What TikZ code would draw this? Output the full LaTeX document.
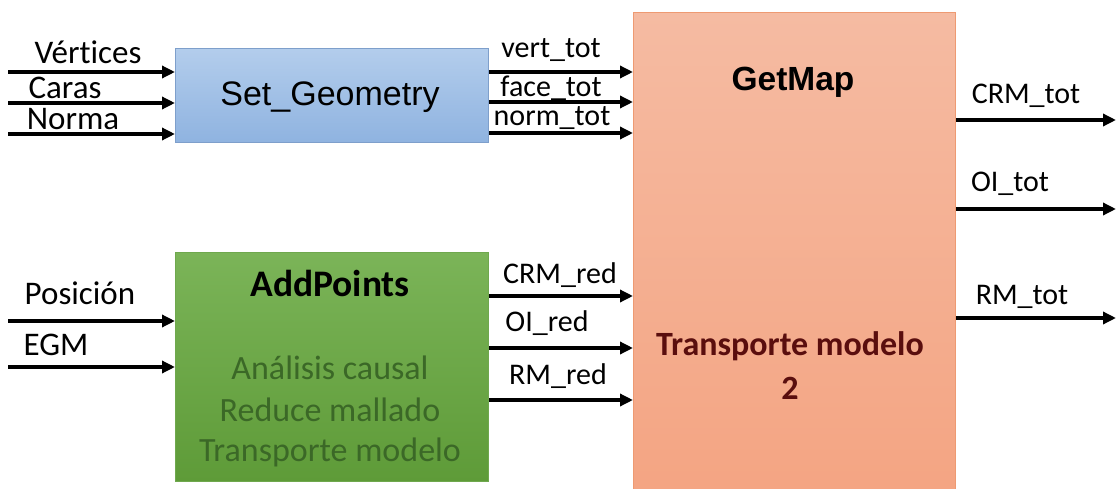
\documentclass[tikz,border=0pt]{standalone}
\usepackage{fontspec}
\setmainfont{Carlito}[Ligatures=NoCommon]
\newfontfamily\arialfont{Liberation Sans}
\usetikzlibrary{arrows.meta}
\definecolor{sgtop}{HTML}{B3CDEC}
\definecolor{sgbot}{HTML}{8FB3E0}
\definecolor{sgline}{HTML}{7E9FCB}
\definecolor{aptop}{HTML}{7BB458}
\definecolor{apbot}{HTML}{5E9B38}
\definecolor{apline}{HTML}{6FA84E}
\definecolor{aptext}{HTML}{3B6827}
\definecolor{gmtop}{HTML}{F5BBA2}
\definecolor{gmbot}{HTML}{F4A482}
\definecolor{gmline}{HTML}{EE9A72}
\definecolor{gmtext}{HTML}{5A0E0E}
\begin{document}
\begin{tikzpicture}[x=1pt,y=-1pt,
  box/.style={anchor=north west, line width=1pt, inner sep=0pt},
  arr/.style={line width=3.6pt, -{Triangle[length=13pt,width=12pt]}},
  inlbl/.style={font=\fontsize{33}{36}\selectfont, inner sep=0pt},
  lbl/.style={font=\fontsize{30}{34}\selectfont, inner sep=0pt},
  sub/.style={font=\fontsize{34}{38}\selectfont, text=aptext, inner sep=0pt}
]
\useasboundingbox (0,0) rectangle (1116,489);
% boxes
\node[box, top color=sgtop, bottom color=sgbot, draw=sgline, minimum width=313pt, minimum height=94pt] (sg) at (175,48) {};
\node[box, top color=aptop, bottom color=apbot, draw=apline, minimum width=313pt, minimum height=229pt] (ap) at (175,252) {};
\node[box, top color=gmtop, bottom color=gmbot, draw=gmline, minimum width=322pt, minimum height=490pt] (gm) at (633,12) {};
% box texts
\node[font=\arialfont\fontsize{34}{38}\selectfont, inner sep=0pt] (sgt) at (330,97) {Set\_Geometry};
\node[font=\arialfont\bfseries\fontsize{33.5}{38}\selectfont, inner sep=0pt] (gmt) at (793,82) {GetMap};
\node[font=\bfseries\fontsize{37.5}{40}\selectfont, inner sep=0pt] (apt) at (330,283) {AddPoints};
\node[sub] (ap1) at (330,368) {Análisis causal};
\node[sub] (ap2) at (330,410) {Reduce mallado};
\node[sub] (ap3) at (330,452) {Transporte modelo};
\node[font=\bfseries\fontsize{34}{38}\selectfont, text=gmtext, inner sep=0pt] (gm1) at (790,346) {Transporte modelo};
\node[font=\bfseries\fontsize{34}{38}\selectfont, text=gmtext, inner sep=0pt] (gm2) at (790,388) {2};
% free ends
\coordinate (i1) at (8,72);
\coordinate (i2) at (8,103);
\coordinate (i3) at (8,134);
\coordinate (i4) at (8,321);
\coordinate (i5) at (8,367);
\coordinate (o1) at (1116,120);
\coordinate (o2) at (1116,209);
\coordinate (o3) at (1116,318);
% inputs to Set_Geometry
\draw[arr] (i1) -- (sg.west |- i1);
\draw[arr] (i2) -- (sg.west |- i2);
\draw[arr] (i3) -- (sg.west |- i3);
\node[inlbl] (l1) at (88,52) {Vértices};
\node[inlbl] (l2) at (65,88) {Caras};
\node[inlbl] (l3) at (73,119) {Norma};
% Set_Geometry to GetMap
\coordinate (s1) at (sg.east |- 0,72);
\coordinate (s2) at (sg.east |- 0,102);
\coordinate (s3) at (sg.east |- 0,133);
\draw[arr] (s1) -- (gm.west |- s1);
\draw[arr] (s2) -- (gm.west |- s2);
\draw[arr] (s3) -- (gm.west |- s3);
\node[lbl] (m1) at (551,50) {vert\_tot};
\node[lbl] (m2) at (551,88) {face\_tot};
\node[lbl] (m3) at (552,118) {norm\_tot};
% inputs to AddPoints
\draw[arr] (i4) -- (ap.west |- i4);
\draw[arr] (i5) -- (ap.west |- i5);
\node[inlbl] (l4) at (80,293) {Posición};
\node[inlbl] (l5) at (56,345) {EGM};
% AddPoints to GetMap
\coordinate (a1) at (ap.east |- 0,296);
\coordinate (a2) at (ap.east |- 0,348);
\coordinate (a3) at (ap.east |- 0,400);
\draw[arr] (a1) -- (gm.west |- a1);
\draw[arr] (a2) -- (gm.west |- a2);
\draw[arr] (a3) -- (gm.west |- a3);
\node[lbl] (r1) at (560,275) {CRM\_red};
\node[lbl] (r2) at (547,323) {OI\_red};
\node[lbl] (r3) at (558,376) {RM\_red};
% outputs
\draw[arr] (gm.east |- o1) -- (o1);
\draw[arr] (gm.east |- o2) -- (o2);
\draw[arr] (gm.east |- o3) -- (o3);
\node[lbl] (t1) at (1026,96) {CRM\_tot};
\node[lbl] (t2) at (1010,184) {OI\_tot};
\node[lbl] (t3) at (1022,297) {RM\_tot};
\end{tikzpicture}
\end{document}
